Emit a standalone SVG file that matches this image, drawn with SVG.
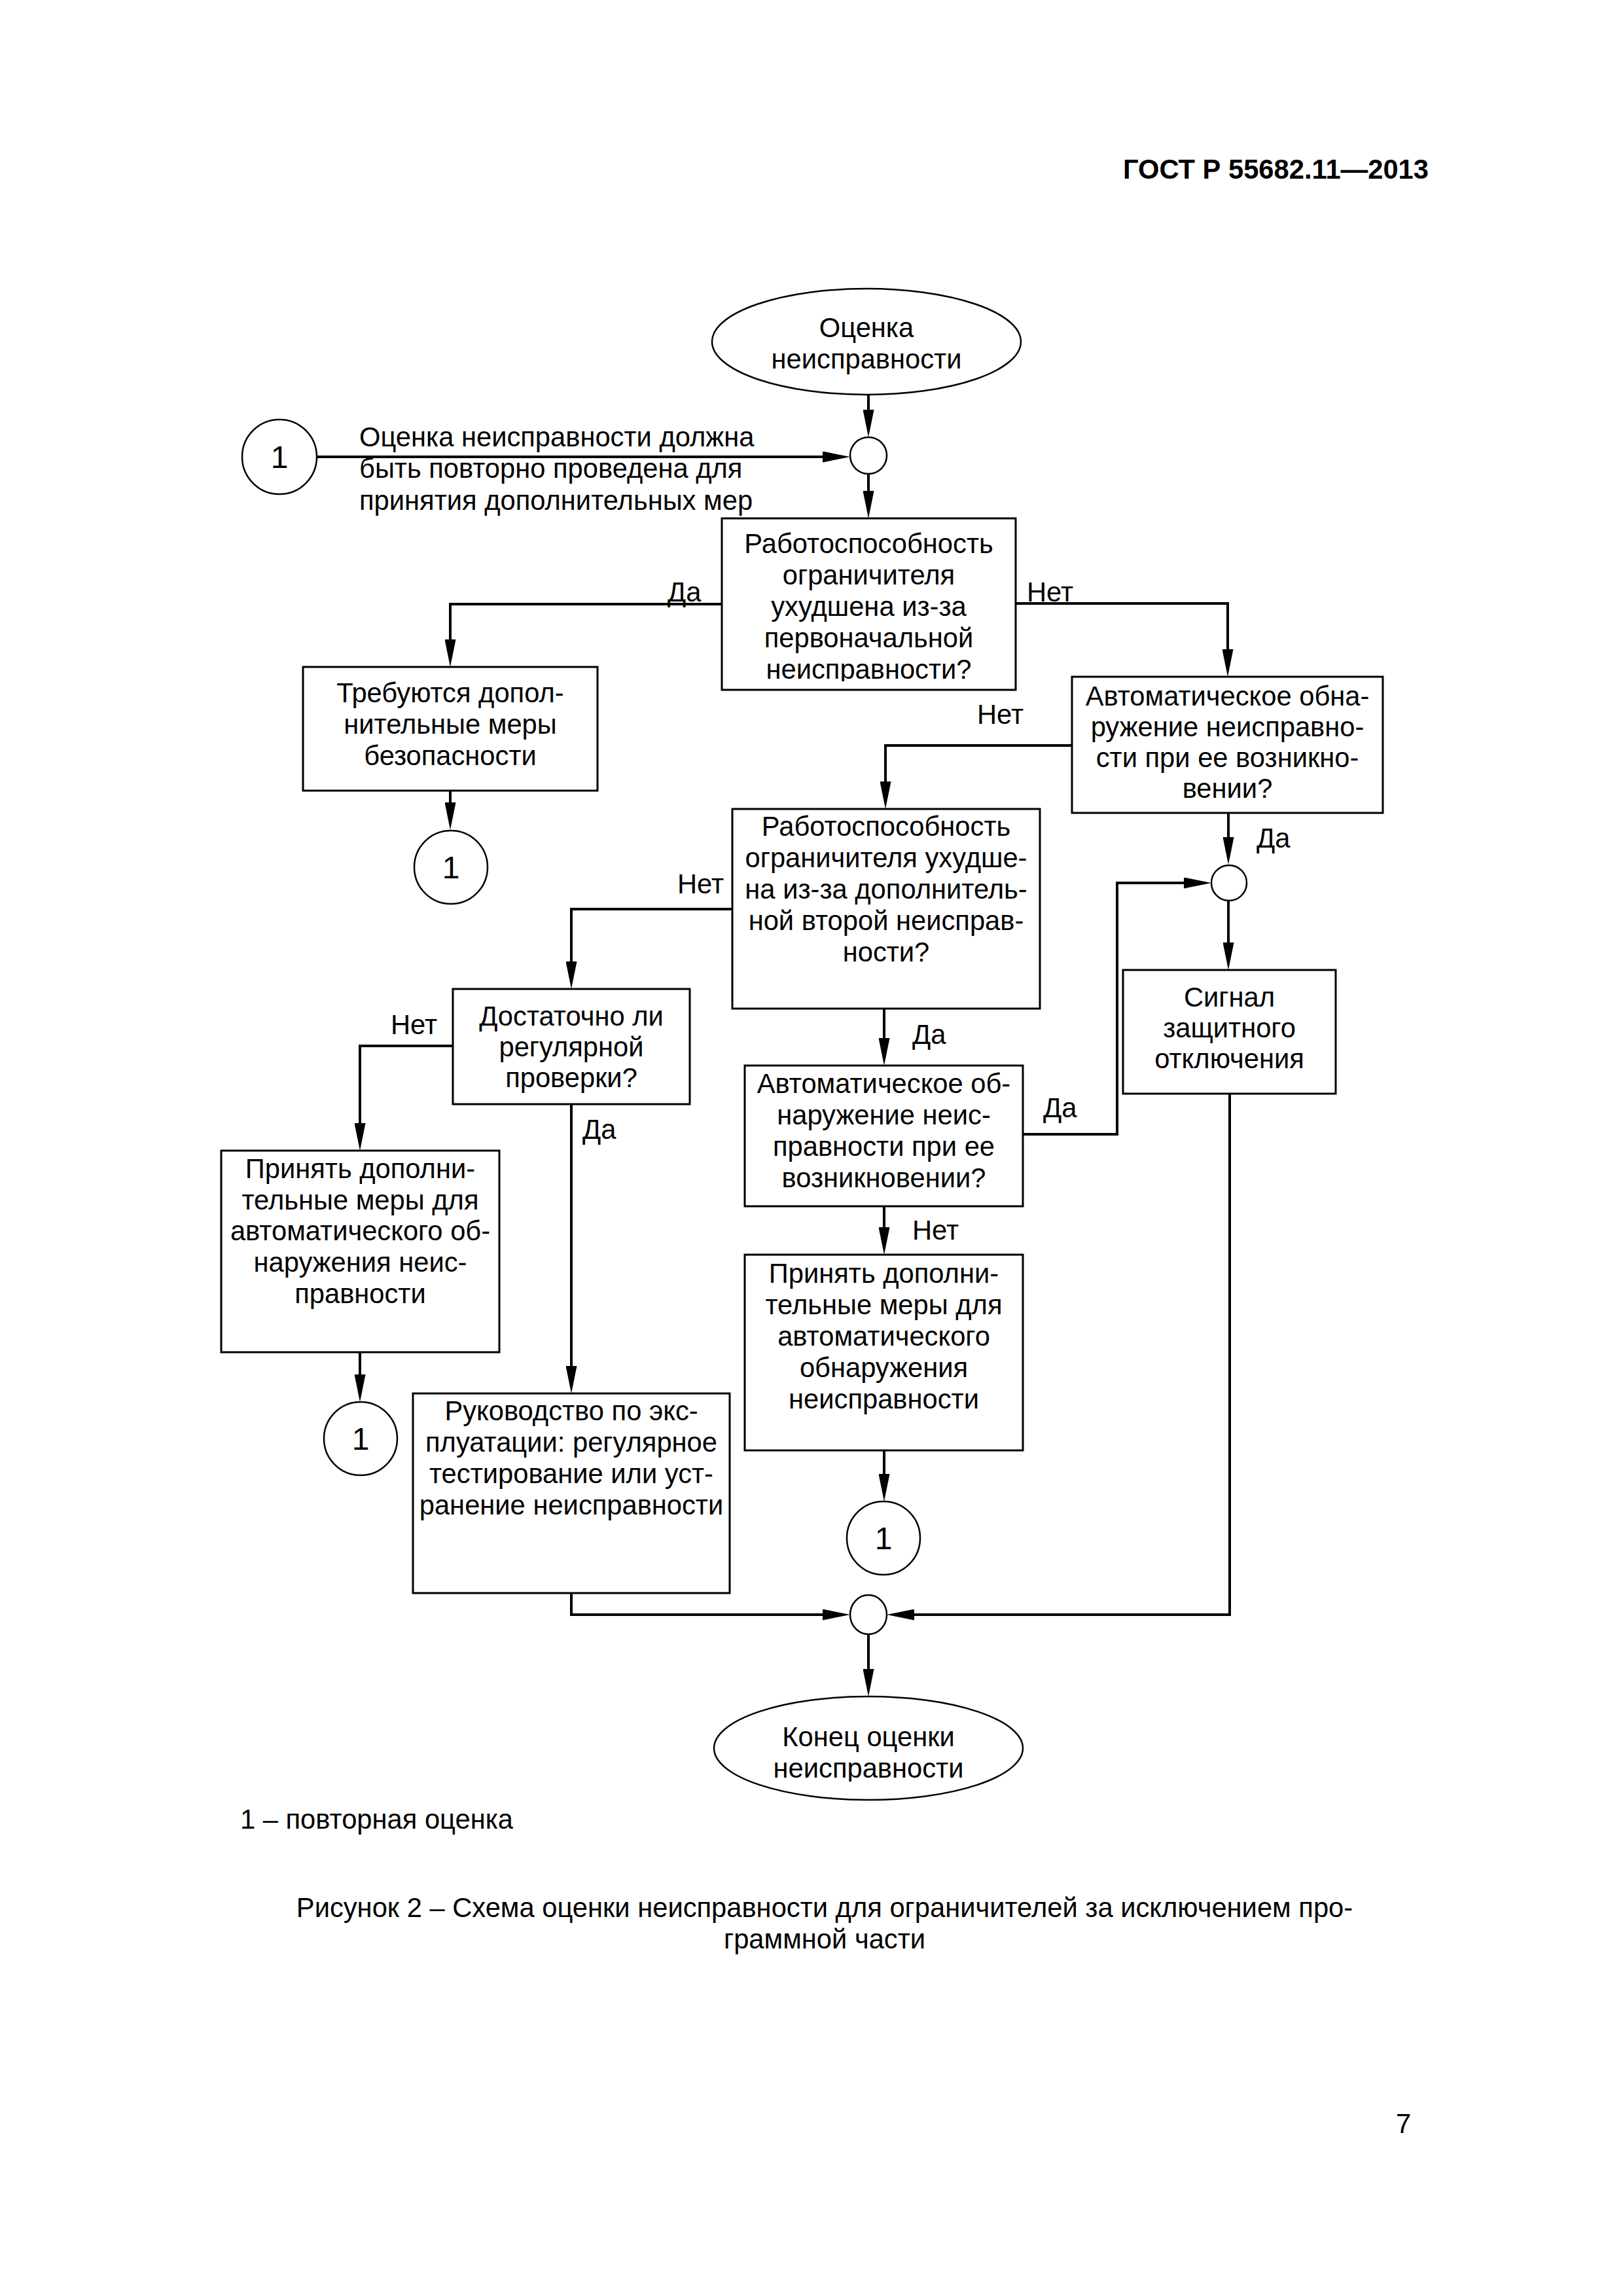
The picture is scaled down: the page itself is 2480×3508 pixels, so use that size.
<svg xmlns="http://www.w3.org/2000/svg" width="2480" height="3508" viewBox="0 0 2480 3508">
<style>
text{font-family:"Liberation Sans",Arial,sans-serif;font-size:41.7px;fill:#000}
.c{text-anchor:middle}
.b{font-weight:bold}
.box{fill:#fff;stroke:#000;stroke-width:3}
.ell{fill:#fff;stroke:#000;stroke-width:2.5}
.con{fill:none;stroke:#000;stroke-width:4;marker-end:url(#arr)}
.ln{fill:none;stroke:#000;stroke-width:4}
.num{font-size:48px}
</style>
<defs>
<marker id="arr" markerUnits="userSpaceOnUse" viewBox="0 0 42 17" markerWidth="42" markerHeight="17" refX="22" refY="8.5" orient="auto"><path d="M0,0 L42,8.5 L0,17 z" fill="#000"/></marker>
<clipPath id="clip1"><rect x="1103" y="792" width="449" height="249"/></clipPath>
<clipPath id="clipEnd"><rect x="1091" y="2592" width="472" height="130"/></clipPath>
</defs>
<rect width="2480" height="3508" fill="#fff"/>
<text class="b" x="2183" y="273" text-anchor="end">ГОСТ Р 55682.11—2013</text>

<g id="connectors">
<path class="con" d="M1327,603 V648"/>
<path class="con" d="M485,698 H1279"/>
<path class="con" d="M1327,724 V772"/>
<path class="con" d="M1103,923 H688 V999"/>
<path class="con" d="M1552,922 H1876 V1014"/>
<path class="con" d="M688,1208 V1248"/>
<path class="con" d="M1638,1139 H1353 V1216"/>
<path class="con" d="M1877,1242 V1301"/>
<path class="con" d="M1563,1733 H1707 V1349 H1831"/>
<path class="con" d="M1877,1376 V1462"/>
<path class="con" d="M1119,1389 H873 V1491"/>
<path class="con" d="M1351,1541 V1608"/>
<path class="con" d="M692,1598 H550 V1738"/>
<path class="con" d="M873,1687 V2109"/>
<path class="con" d="M550,2066 V2122"/>
<path class="con" d="M1351,1843 V1897"/>
<path class="con" d="M1351,2216 V2274"/>
<path class="con" d="M873,2434 V2467 H1279"/>
<path class="con" d="M1879,1671 V2467 H1375"/>
<path class="con" d="M1327,2497 V2572"/>
<text x="549" y="682">Оценка неисправности должна</text>
<text x="549" y="730">быть повторно проведена для</text>
<text x="549" y="779">принятия дополнительных мер</text>
<text x="1020" y="919">Да</text>
<text x="1569" y="919">Нет</text>
<text x="1493" y="1106">Нет</text>
<text x="1920" y="1295">Да</text>
<text x="1035" y="1365">Нет</text>
<text x="597" y="1580">Нет</text>
<text x="890" y="1740">Да</text>
<text x="1394" y="1595">Да</text>
<text x="1594" y="1707">Да</text>
<text x="1394" y="1894">Нет</text>
</g>

<g id="start">
<ellipse class="ell" cx="1324" cy="522" rx="236" ry="81"/>
<text class="c" x="1324" y="515">Оценка</text>
<text class="c" x="1324" y="563">неисправности</text>
</g>

<g id="ref1a">
<circle class="ell" cx="427" cy="698" r="57"/>
<text class="c num" x="427" y="715">1</text>
</g>

<g id="junction1"><circle class="ell" cx="1327" cy="696" r="28"/></g>

<g id="box1">
<rect class="box" x="1103" y="792" width="449" height="262"/>
<g clip-path="url(#clip1)">
<text class="c" x="1327.5" y="845">Работоспособность</text>
<text class="c" x="1327.5" y="893">ограничителя</text>
<text class="c" x="1327.5" y="941">ухудшена из-за</text>
<text class="c" x="1327.5" y="989">первоначальной</text>
<text class="c" x="1327.5" y="1037">неисправности?</text>
</g>
</g>

<g id="box_safety">
<rect class="box" x="463" y="1019" width="450" height="189"/>
<text class="c" x="688" y="1073">Требуются допол-</text>
<text class="c" x="688" y="1121">нительные меры</text>
<text class="c" x="688" y="1169">безопасности</text>
</g>

<g id="ref1b">
<circle class="ell" cx="689" cy="1325" r="56"/>
<text class="c num" x="689" y="1342">1</text>
</g>

<g id="box2">
<rect class="box" x="1638" y="1034" width="475" height="208"/>
<text class="c" x="1875.5" y="1078">Автоматическое обна-</text>
<text class="c" x="1875.5" y="1125">ружение неисправно-</text>
<text class="c" x="1875.5" y="1172">сти при ее возникно-</text>
<text class="c" x="1875.5" y="1219">вении?</text>
</g>

<g id="junction2"><circle class="ell" cx="1878" cy="1349" r="27"/></g>

<g id="box3">
<rect class="box" x="1119" y="1236" width="470" height="305"/>
<text class="c" x="1354" y="1277">Работоспособность</text>
<text class="c" x="1354" y="1325">ограничителя ухудше-</text>
<text class="c" x="1354" y="1373">на из-за дополнитель-</text>
<text class="c" x="1354" y="1421">ной второй неисправ-</text>
<text class="c" x="1354" y="1469">ности?</text>
</g>

<g id="box_signal">
<rect class="box" x="1716" y="1482" width="325" height="189"/>
<text class="c" x="1878.5" y="1538">Сигнал</text>
<text class="c" x="1878.5" y="1585">защитного</text>
<text class="c" x="1878.5" y="1632">отключения</text>
</g>

<g id="box4">
<rect class="box" x="692" y="1511" width="362" height="176"/>
<text class="c" x="873" y="1567">Достаточно ли</text>
<text class="c" x="873" y="1614">регулярной</text>
<text class="c" x="873" y="1661">проверки?</text>
</g>

<g id="box5">
<rect class="box" x="338" y="1758" width="425" height="308"/>
<text class="c" x="550.5" y="1800">Принять дополни-</text>
<text class="c" x="550.5" y="1848">тельные меры для</text>
<text class="c" x="550.5" y="1895">автоматического об-</text>
<text class="c" x="550.5" y="1943">наружения неис-</text>
<text class="c" x="550.5" y="1991">правности</text>
</g>

<g id="box6">
<rect class="box" x="1138" y="1628" width="425" height="215"/>
<text class="c" x="1350.5" y="1670">Автоматическое об-</text>
<text class="c" x="1350.5" y="1718">наружение неис-</text>
<text class="c" x="1350.5" y="1766">правности при ее</text>
<text class="c" x="1350.5" y="1814">возникновении?</text>
</g>

<g id="box7">
<rect class="box" x="1138" y="1917" width="425" height="299"/>
<text class="c" x="1350.5" y="1960">Принять дополни-</text>
<text class="c" x="1350.5" y="2008">тельные меры для</text>
<text class="c" x="1350.5" y="2056">автоматического</text>
<text class="c" x="1350.5" y="2104">обнаружения</text>
<text class="c" x="1350.5" y="2152">неисправности</text>
</g>

<g id="ref1c">
<circle class="ell" cx="551" cy="2198" r="56"/>
<text class="c num" x="551" y="2215">1</text>
</g>

<g id="box8">
<rect class="box" x="631" y="2129" width="484" height="305"/>
<text class="c" x="873" y="2170">Руководство по экс-</text>
<text class="c" x="873" y="2218">плуатации: регулярное</text>
<text class="c" x="873" y="2266">тестирование или уст-</text>
<text class="c" x="873" y="2314">ранение неисправности</text>
</g>

<g id="ref1d">
<circle class="ell" cx="1350" cy="2350" r="56"/>
<text class="c num" x="1350" y="2367">1</text>
</g>

<g id="junction3"><ellipse class="ell" cx="1327" cy="2467" rx="28" ry="30"/></g>

<g id="end">
<ellipse class="ell" cx="1327" cy="2671" rx="236" ry="79"/>
<g clip-path="url(#clipEnd)">
<text class="c" x="1327" y="2668">Конец оценки</text>
<text class="c" x="1327" y="2716">неисправности</text>
</g>
</g>

<text x="367" y="2794">1 – повторная оценка</text>
<text class="c" x="1260" y="2929">Рисунок 2 – Схема оценки неисправности для ограничителей за исключением про-</text>
<text class="c" x="1260" y="2977">граммной части</text>
<text x="2133" y="3259">7</text>
</svg>
